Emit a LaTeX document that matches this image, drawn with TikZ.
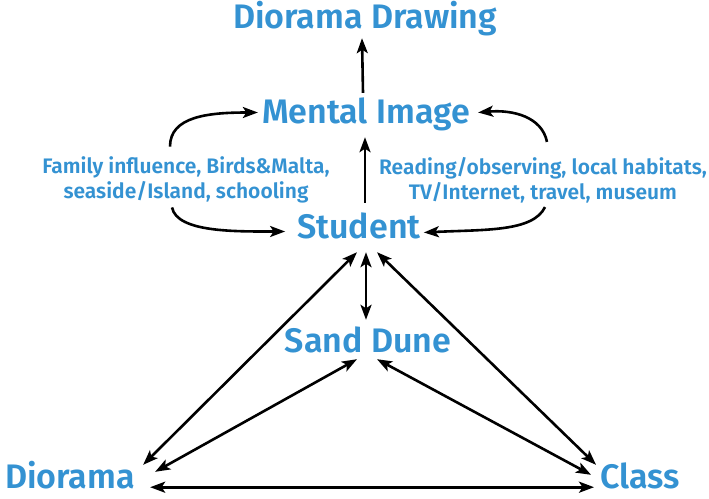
\documentclass[tikz,border=0pt]{standalone}
\usepackage{fontspec}
\setmainfont{Fira Sans}[BoldFont={Fira Sans SemiBold}]
\usetikzlibrary{arrows.meta}
\definecolor{lblue}{RGB}{52,146,210}
\begin{document}
\begin{tikzpicture}[x=1pt,y=-1pt,
  big/.style={text=lblue,font=\fontsize{34}{38}\selectfont\bfseries,inner sep=0pt,text height=23pt,text depth=0pt,anchor=base},
  small/.style={text=lblue,font=\fontsize{21}{25}\selectfont\bfseries,inner sep=0pt,align=center,anchor=center},
  arr/.style={line width=2.6pt,-{Stealth[length=15pt,width=11pt,inset=3.5pt]}},
  darr/.style={line width=2.6pt,{Stealth[length=15pt,width=11pt,inset=3.5pt]}-{Stealth[length=15pt,width=11pt,inset=3.5pt]}}]
\useasboundingbox (0,0) rectangle (709,498);
\node[big] (dd) at (365,28) {Diorama Drawing};
\node[big] (mi) at (366,123) {Mental Image};
\node[big] (stu) at (359,238) {Student};
\node[big] (sd) at (368,352) {Sand Dune};
\node[big] (dio) at (70,488) {Diorama};
\node[big] (cls) at (640,488) {Class};
\node[small] (lt) at (186,180) {Family influence, Birds\&Malta,\\seaside/Island, schooling};
\node[small] (rt) at (543,180) {Reading/observing, local habitats,\\TV/Internet, travel, museum};
% vertical arrows
\draw[arr] ([shift={(-3,-7)}]mi.north) -- ([shift={(-3,10)}]dd.south);
\draw[arr] ([shift={(6,-12)}]stu.north) -- ([shift={(-1,14)}]mi.south);
% curved influence arrows
\draw[arr] ([shift={(-16,-10)}]lt.north) .. controls +(0,-30) and +(-50,0) .. ([shift={(-4,1)}]mi.west);
\draw[arr] ([shift={(-14,4)}]lt.south) .. controls +(5,25) and +(-50,0) .. ([shift={(-12,5)}]stu.west);
\draw[arr] ([shift={(4,-15)}]rt.north) .. controls +(-5,-25) and +(35,-3) .. ([shift={(8,1)}]mi.east);
\draw[arr] ([shift={(2,4)}]rt.south) .. controls +(-12,25) and +(60,-3) .. ([shift={(3,6)}]stu.east);
% triangle
\draw[darr] ([shift={(-2,14)}]stu.south) -- ([shift={(8,0)}]dio.north east);
\draw[darr] ([shift={(18,14)}]stu.south) -- ([shift={(-4,0)}]cls.north west);
\draw[darr] ([shift={(7,14)}]stu.south) -- ([shift={(-2,-9)}]sd.north);
\draw[darr] ([shift={(-11,7)}]sd.south) -- ([shift={(20,7)}]dio.north east);
\draw[darr] ([shift={(9,7)}]sd.south) -- ([shift={(-9,10)}]cls.north west);
\draw[darr] ([shift={(15,-1)}]dio.south east) -- ([shift={(-6,-1)}]cls.south west);
\end{tikzpicture}
\end{document}
